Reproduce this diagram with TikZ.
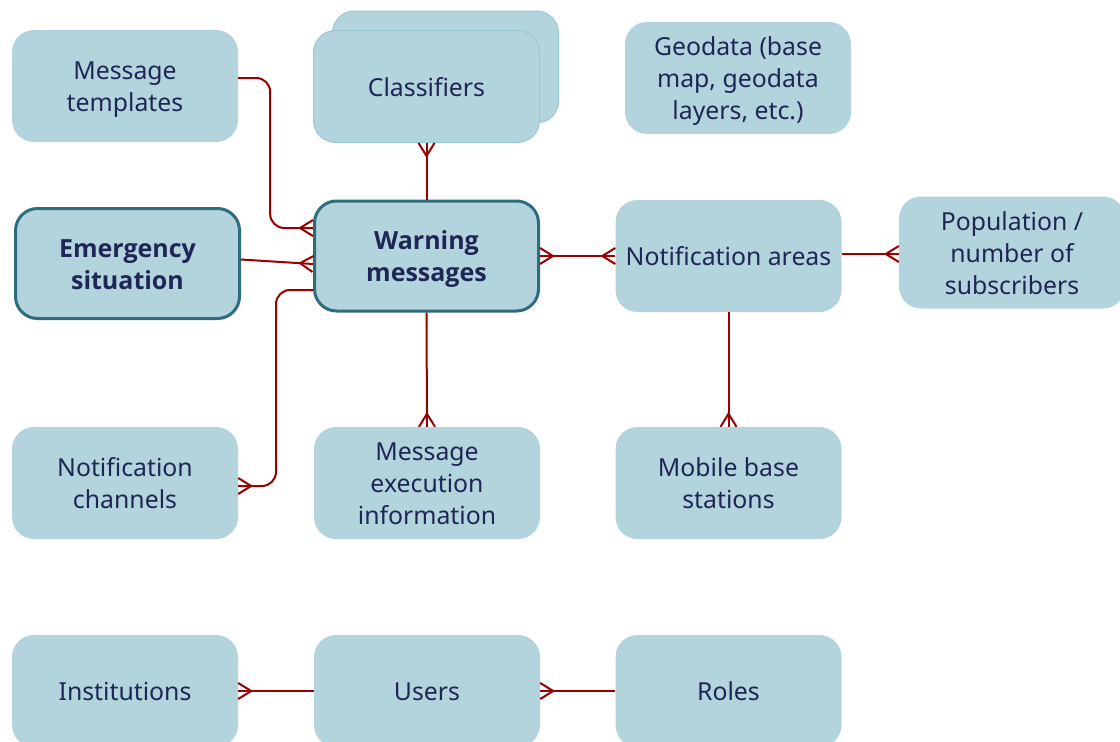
\documentclass[tikz,border=0pt]{standalone}
\usepackage{fontspec}
\setmainfont{Noto Sans}
\newfontfamily\keyfont{Open Sans}
\usetikzlibrary{arrows.meta}

% fixed line extent so text sits centred regardless of descenders
\newcommand\linestrut{\rule[-5pt]{0pt}{29pt}}
\newcommand\boxtextlines[1]{\linestrut#1\linestrut}

% crow's foot (many) end for ER connectors
\pgfdeclarearrow{
  name = Crow,
  parameters = {\the\pgfarrowlength,\the\pgfarrowwidth},
  setup code = {
    \pgfarrowssettipend{0pt}
    \pgfarrowssetlineend{0pt}
    \pgfarrowssetbackend{-\pgfarrowlength}
    \pgfarrowssetvisualbackend{-\pgfarrowlength}
    \pgfarrowshullpoint{0pt}{.5\pgfarrowwidth}
    \pgfarrowshullpoint{0pt}{-.5\pgfarrowwidth}
    \pgfarrowshullpoint{-\pgfarrowlength}{0pt}
    \pgfarrowssavethe\pgfarrowlength
    \pgfarrowssavethe\pgfarrowwidth
  },
  drawing code = {
    \pgfsetroundjoin
    \pgfpathmoveto{\pgfqpoint{0pt}{.5\pgfarrowwidth}}
    \pgfpathlineto{\pgfqpoint{-\pgfarrowlength}{0pt}}
    \pgfpathlineto{\pgfqpoint{0pt}{-.5\pgfarrowwidth}}
    \pgfusepathqstroke
  },
  defaults = {length = 13pt, width = 16pt}
}

\definecolor{boxfill}{RGB}{180,212,221}
\definecolor{boxtext}{RGB}{30,38,86}
\definecolor{keyline}{RGB}{45,110,126}
\definecolor{backline}{RGB}{156,198,209}
\definecolor{relred}{RGB}{153,0,0}

\tikzset{
  entity/.style={fill=boxfill, draw=none, rounded corners=22pt,
    minimum width=226pt, minimum height=112pt, align=center,
    text=boxtext, font=\fontsize{24.8}{32}\selectfont, inner sep=0pt},
  keyentity/.style={entity, draw=keyline, line width=3pt,
    minimum width=224pt, minimum height=110pt,
    font=\keyfont\bfseries\fontsize{25}{32}\selectfont},
  stacked/.style={entity, draw=backline, line width=1pt},
  rel/.style={draw=relred, line width=2pt},
  many/.style={rel, -{Crow}},
  manymany/.style={rel, {Crow}-{Crow}},
}

\begin{document}
\begin{tikzpicture}[x=1pt,y=-1pt]
\clip (0,0) rectangle (1120,742);
\fill[white] (0,0) rectangle (1120,742);

% entities
\node[entity] (tmpl) at (125,86) {\boxtextlines{Message\\templates}};
\node[stacked] (clsback) at (445.5,67) {};
\node[stacked] (cls) at (426.5,86.5) {\boxtextlines{Classifiers}};
\node[entity] (geo) at (738,78) {\boxtextlines{Geodata (base\\map, geodata\\layers, etc.)}};
\node[keyentity] (emerg) at (127.5,263.5) {\boxtextlines{Emergency\\situation}};
\node[keyentity] (warn) at (426.5,256) {\boxtextlines{Warning\\messages}};
\node[entity] (notif) at (728.5,256) {\boxtextlines{Notification areas}};
\node[entity] (pop) at (1012,252.5) {\boxtextlines{Population /\\number of\\subscribers}};
\node[entity] (chan) at (125,483) {\boxtextlines{Notification\\channels}};
\node[entity] (exec) at (427,483) {\boxtextlines{Message\\execution\\information}};
\node[entity] (mbs) at (728.5,483) {\boxtextlines{Mobile base\\stations}};
\node[entity] (inst) at (125,691) {\boxtextlines{Institutions}};
\node[entity] (users) at (427,691) {\boxtextlines{Users}};
\node[entity] (roles) at (728.5,691) {\boxtextlines{Roles}};

% relationships
\draw[many, rounded corners=14pt] ([yshift=8pt]tmpl.east) -- ++(32,0)
  |- ([yshift=28pt]warn.west);
\draw[many] ([yshift=4pt]emerg.east) -- ([yshift=-8pt]warn.west);
\draw[many, rounded corners=14pt] ([yshift=-34pt]warn.west) -- ++(-37,0)
  |- ([yshift=-3pt]chan.east);
\draw[many] (warn.north) -- (cls.south);
\draw[manymany] (warn.east) -- (notif.west);
\draw[many] ([yshift=2pt]notif.east) -- ([yshift=2pt]notif.east -| pop.west);
\draw[many] (warn.south) -- (exec.north);
\draw[many] (notif.south) -- (mbs.north);
\draw[many] (users.west) -- (inst.east);
\draw[many] (roles.west) -- (users.east);
\end{tikzpicture}
\end{document}
